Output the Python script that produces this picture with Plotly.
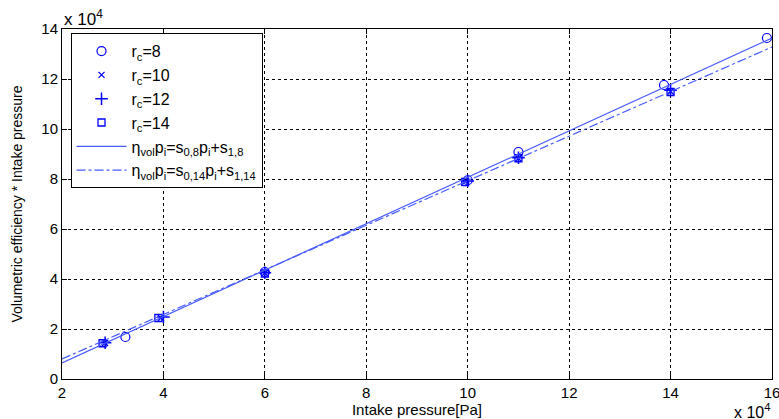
import plotly.graph_objects as go

# Data (Pa); intake pressure on x, eta_vol * intake pressure on y
rc8_x = [32500, 60000, 100000, 110000, 138700, 159000]
rc8_y = [16800, 42800, 79500, 90800, 117600, 136400]
rc10_x = [28500, 39500, 60000, 99500, 110000, 140000]
rc10_y = [14400, 24400, 42400, 79000, 88200, 115000]
rc12_x = [28500, 40000, 60000, 100000, 110000, 140000]
rc12_y = [14500, 24800, 42500, 79200, 88500, 115500]
rc14_x = [28000, 39000, 60000, 99500, 110000, 140000]
rc14_y = [14300, 24400, 42200, 78800, 88300, 114800]

fit8_x = [20000, 160000]
fit8_y = [6400, 136400]
fit14_x = [20000, 160000]
fit14_y = [8000, 132800]

x_ticks = [2, 4, 6, 8, 10, 12, 14, 16]
y_ticks = [0, 2, 4, 6, 8, 10, 12, 14]
scale = 10000

BLUE = "rgb(0,0,255)"
LINEBLUE = "rgb(70,90,255)"
FONT = "Liberation Sans, Arial"

fig = go.Figure()
fig.add_trace(go.Scatter(x=rc8_x, y=rc8_y, mode="markers", name="r<sub>c</sub>=8",
                         marker=dict(symbol="circle-open", size=9, color=BLUE, line=dict(width=1.2, color=BLUE))))
fig.add_trace(go.Scatter(x=rc10_x, y=rc10_y, mode="markers", name="r<sub>c</sub>=10",
                         marker=dict(symbol="x-thin-open", size=6, color=BLUE, line=dict(width=1.3, color=BLUE))))
fig.add_trace(go.Scatter(x=rc12_x, y=rc12_y, mode="markers", name="r<sub>c</sub>=12",
                         marker=dict(symbol="cross-thin-open", size=9, color=BLUE, line=dict(width=1.5, color=BLUE))))
fig.add_trace(go.Scatter(x=rc14_x, y=rc14_y, mode="markers", name="r<sub>c</sub>=14",
                         marker=dict(symbol="square-open", size=7, color=BLUE, line=dict(width=1.3, color=BLUE))))
fig.add_trace(go.Scatter(x=fit8_x, y=fit8_y, mode="lines",
                         name="η<sub>vol</sub>p<sub>i</sub>=s<sub>0,8</sub>p<sub>i</sub>+s<sub>1,8</sub>",
                         line=dict(color=LINEBLUE, width=1.2)))
fig.add_trace(go.Scatter(x=fit14_x, y=fit14_y, mode="lines",
                         name="η<sub>vol</sub>p<sub>i</sub>=s<sub>0,14</sub>p<sub>i</sub>+s<sub>1,14</sub>",
                         line=dict(color=LINEBLUE, width=1.2, dash="dashdot")))

axis_common = dict(
    showline=True, linecolor="black", linewidth=1, mirror="ticks",
    ticks="inside", ticklen=5, tickcolor="black",
    showgrid=True, gridcolor="black", gridwidth=1, griddash="dot",
    zeroline=False, ticklabeloverflow="allow",
    tickfont=dict(family=FONT, size=15, color="black"),
)

fig.update_xaxes(range=[20000, 160000], tickvals=[v * scale for v in x_ticks],
                 ticktext=[str(v) for v in x_ticks], automargin=False,
                 title=dict(text="Intake pressure[Pa]", standoff=0,
                            font=dict(family=FONT, size=15, color="black")),
                 **axis_common)
fig.update_yaxes(range=[0, 140000], tickvals=[v * scale for v in y_ticks],
                 ticktext=[str(v) for v in y_ticks], automargin=False,
                 title=dict(text="Volumetric efficiency * Intake pressure",
                            font=dict(family=FONT, size=14, color="black")),
                 **axis_common)

fig.add_annotation(text="x 10<sup>4</sup>", xref="paper", yref="paper", x=0.0, y=1.0,
                   xanchor="left", yanchor="bottom", showarrow=False, yshift=-2,
                   font=dict(family=FONT, size=17, color="black"))
fig.add_annotation(text="x 10<sup>4</sup>", xref="paper", yref="paper", x=1.0, y=0.0,
                   xanchor="right", yanchor="top", showarrow=False, yshift=-20, xshift=0,
                   font=dict(family=FONT, size=16, color="black"))

fig.update_layout(
    width=779, height=419,
    margin=dict(l=62, r=7, t=29, b=40),
    paper_bgcolor="white", plot_bgcolor="white",
    font=dict(family=FONT, size=15, color="black"),
    legend=dict(x=0.012, y=0.988, xanchor="left", yanchor="top",
                bgcolor="white", bordercolor="black", borderwidth=1,
                font=dict(size=16), tracegroupgap=0, itemwidth=50),
    showlegend=True,
)

fig.write_html("out.html")
